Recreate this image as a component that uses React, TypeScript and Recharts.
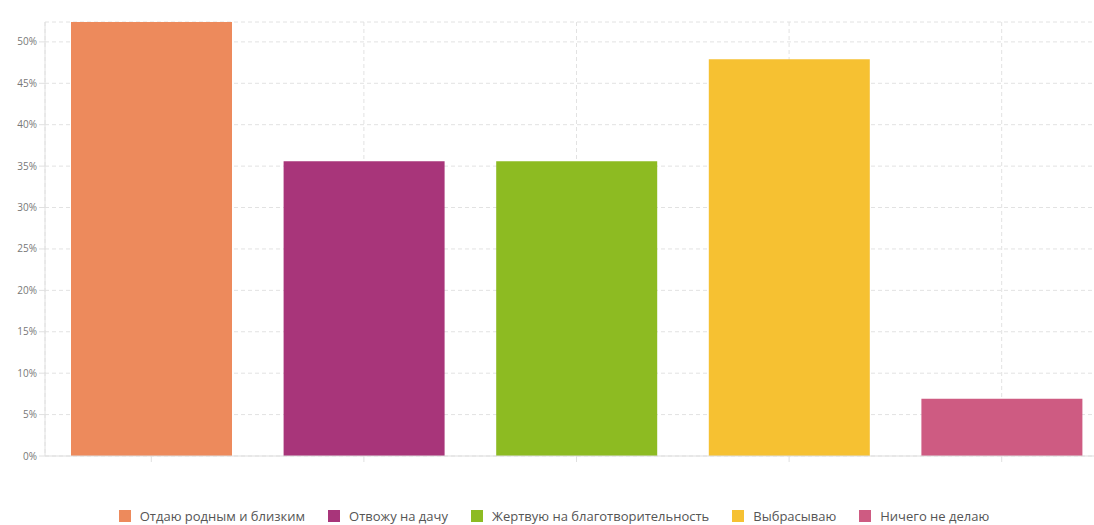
import { BarChart, Bar, Cell, XAxis, YAxis, CartesianGrid, Legend } from "recharts";

const categories = [
  "Отдаю родным и близким",
  "Отвожу на дачу",
  "Жертвую на благотворительность",
  "Выбрасываю",
  "Ничего не делаю",
];
const shares = [52.4, 35.6, 35.6, 47.9, 6.9];
const colors = ["#ED8A5C", "#A8357A", "#8DBB22", "#F6C132", "#CE5B82"];
const yTicks = [0, 5, 10, 15, 20, 25, 30, 35, 40, 45, 50];

const data = categories.map((name, i) => ({ name, value: shares[i] }));

function SquareLegend() {
  return (
    <div
      style={{
        display: "flex",
        justifyContent: "center",
        gap: 23,
        fontFamily: "'Open Sans', sans-serif",
        fontSize: 13,
        color: "#555",
      }}
    >
      {categories.map((c, i) => (
        <span key={c} style={{ display: "flex", alignItems: "center" }}>
          <span style={{ width: 12, height: 12, background: colors[i], marginRight: 9, display: "inline-block" }} />
          {c}
        </span>
      ))}
    </div>
  );
}

export default function App() {
  return (
    <div style={{ position: "fixed", top: 0, left: 0, width: 1094, height: 525, overflow: "hidden", background: "#fff" }}>
      <BarChart
        width={1108}
        height={525}
        data={data}
        margin={{ top: 22, right: 0, left: 0, bottom: 39 }}
        barCategoryGap={26}
      >
        <CartesianGrid stroke="#e2e2e2" strokeDasharray="4 3" />
        <XAxis
          dataKey="name"
          tick={() => <g />}
          tickSize={6}
          height={12}
          axisLine={{ stroke: "#dddddd" }}
          tickLine={{ stroke: "#e0e0e0" }}
        />
        <YAxis
          width={45}
          domain={[0, "dataMax"]}
          ticks={yTicks}
          tickFormatter={(v) => `${v}%`}
          tick={{ fill: "#777", fontSize: 10, fontFamily: "'Open Sans', sans-serif" }}
          tickSize={6}
          axisLine={{ stroke: "#e0e0e0" }}
          tickLine={{ stroke: "#e0e0e0" }}
        />
        <Legend verticalAlign="bottom" content={SquareLegend} wrapperStyle={{ bottom: 0 }} />
        <Bar dataKey="value" isAnimationActive={false}>
          {data.map((d, i) => (
            <Cell key={d.name} fill={colors[i]} />
          ))}
        </Bar>
      </BarChart>
    </div>
  );
}
